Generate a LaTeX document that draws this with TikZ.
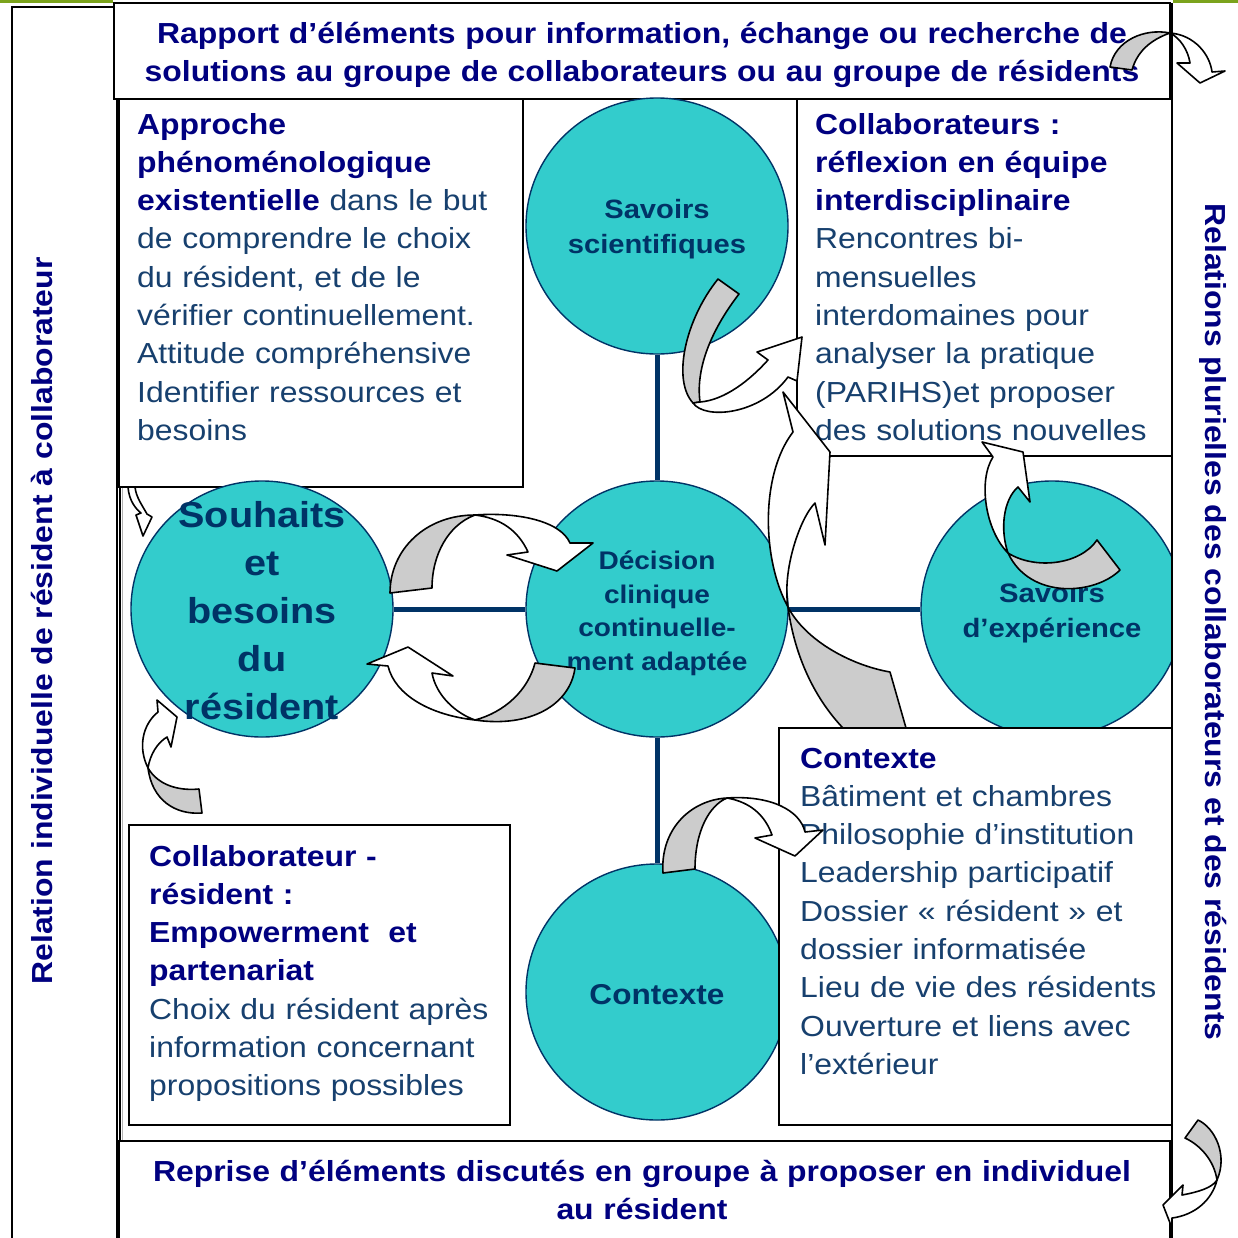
\documentclass[tikz,border=0pt]{standalone}
\usepackage{fontspec}
\setmainfont{Liberation Sans}[FakeStretch=1.1]
\usetikzlibrary{shapes.geometric}
\definecolor{tealc}{HTML}{33CCCC}
\definecolor{navyc}{HTML}{003366}
\definecolor{hdc}{HTML}{000080}
\definecolor{bdc}{HTML}{17406E}
\definecolor{grnc}{HTML}{7BA31C}
\definecolor{shdc}{HTML}{CCCCCC}
\newcommand\hdg[1]{\textcolor{hdc}{\bfseries #1}}
\begin{document}
\begin{tikzpicture}[x=1pt,y=-1pt,
  frame/.style={draw=black,line width=2pt},
  box/.style={draw=black,line width=1.6pt,fill=white},
  circ/.style={ellipse,draw=navyc,line width=1.4pt,fill=tealc,minimum width=262pt,minimum height=256pt,inner sep=0pt},
  conn/.style={draw=navyc,line width=5pt},
  ctext/.style={align=center,text=navyc,inner sep=0pt},
  btext/.style={anchor=base west,align=left,text width=380pt,inner sep=0pt,text=bdc,font=\fontsize{29}{38.3}\selectfont},
  htext/.style={anchor=base,align=center,text width=1100pt,inner sep=0pt,text=hdc,font=\bfseries\fontsize{29}{38}\selectfont},
  arrw/.style={draw=black,line width=1.6pt,fill=white,line join=round},
  shade/.style={draw=black,line width=1.6pt,fill=shdc,line join=round}]
\useasboundingbox (0,0) rectangle (1238,1237);
\fill[white] (0,0) rectangle (1238,1237);
% green top lines
\draw[grnc,line width=2.5pt] (0,1.5) -- (113,1.5);
\draw[grnc,line width=2.5pt] (1173,1.5) -- (1238,1.5);
% side panels and frame
\draw[frame] (12,7) rectangle (117,1240);
\draw[black,line width=1.5pt] (120,3) -- (120,1240);
\draw[gray!60,line width=1pt] (122.5,14) -- (122.5,1240);
\draw[frame,fill=white] (114,3) rectangle (1170,99);
\draw[frame,fill=white] (119,1141) rectangle (1170,1240);
% header / footer texts
\node[htext] (toptxt) at (642,43) {Rapport d’éléments pour information, échange ou recherche de\\ solutions au groupe de collaborateurs ou au groupe de résidents};
\node[htext] (bottxt) at (642,1181) {Reprise d’éléments discutés en groupe à proposer en individuel\\ au résident};
\node[rotate=90,inner sep=0pt,text=hdc,font=\bfseries\fontsize{29}{35}\selectfont] (lefttxt) at (42,621) {Relation individuelle de résident à collaborateur};
\node[rotate=-90,inner sep=0pt,text=hdc,font=\bfseries\fontsize{29}{35}\selectfont] (righttxt) at (1213,622) {Relations plurielles des collaborateurs et des résidents};
% text boxes
\draw[box] (119,99) rectangle (523,487);
\node[btext] (tltxt) at (137,134) {\hdg{Approche}\\ \hdg{phénoménologique}\\ \hdg{existentielle} dans le but\\ de comprendre le choix\\ du résident, et de le\\ vérifier continuellement.\\ Attitude compréhensive\\ Identifier ressources et\\ besoins};
\draw[box] (797,99) rectangle (1172,456);
\node[btext] (trtxt) at (815,134) {\hdg{Collaborateurs :}\\ \hdg{réflexion en équipe}\\ \hdg{interdisciplinaire}\\ Rencontres bi-\\ mensuelles\\ interdomaines pour\\ analyser la pratique\\ (PARIHS)et proposer\\ des solutions nouvelles};
\draw[box] (129,825) rectangle (510,1125);
\node[btext] (bltxt) at (149,866) {\hdg{Collaborateur -}\\ \hdg{résident :}\\ \hdg{Empowerment\ \ et}\\ \hdg{partenariat}\\ Choix du résident après\\ information concernant\\ propositions possibles};
% circles
\node[circ] (sci) at (657,226) {};
\node[circ] (dec) at (657,609) {};
\node[circ] (sou) at (262,609) {};
\begin{scope}
\clip (0,0) rectangle (1172,1237);
\node[circ] (exp) at (1052,609) {};
\end{scope}
\draw[frame] (1172,3) -- (1172,1240);
\node[circ] (ctx) at (657,992) {};
\draw[conn] (sci) -- (dec);
\draw[conn] (sou) -- (dec);
\draw[conn] (dec) -- (exp);
\draw[conn] (dec) -- (ctx);
\node[ctext,yshift=-3pt,font=\bfseries\fontsize{26.5}{35}\selectfont] (scit) at (sci) {Savoirs\\ scientifiques};
\node[ctext,yshift=-4.5pt,font=\bfseries\fontsize{25.5}{33.5}\selectfont] (dect) at (dec) {Décision\\ clinique\\ continuelle-\\ ment adaptée};
\node[ctext,yshift=-2pt,font=\bfseries\fontsize{36}{48}\selectfont] (sout) at (sou) {Souhaits\\ et\\ besoins\\ du\\ résident};
\node[ctext,yshift=-4pt,font=\bfseries\fontsize{26.6}{35}\selectfont] (expt) at (exp) {Savoirs\\ d’expérience};
\node[ctext,yshift=-3pt,font=\bfseries\fontsize{28.7}{35}\selectfont] (ctxt) at (ctx) {Contexte};
% big arrow from context box upwards (under the box)
\path[shade] (788,607) .. controls (795,660) and (818,705) .. (850,735) -- (908,735) -- (890,672) .. controls (850,665) and (805,640) .. (788,607) -- cycle;
\path[arrw] (788,607) .. controls (762,560) and (760,475) .. (793,432) -- (783,392) -- (830,452) -- (825,545) -- (815,503) .. controls (800,518) and (782,570) .. (788,607) -- cycle;
% bottom right box
\draw[box] (779,728) rectangle (1172,1125);
\node[btext] (brtxt) at (800,768) {\hdg{Contexte}\\ Bâtiment et chambres\\ Philosophie d’institution\\ Leadership participatif\\ Dossier «~résident~» et\\ dossier informatisée\\ Lieu de vie des résidents\\ Ouverture et liens avec\\ l’extérieur};
% arrow top right corner
\path[shade] (1110,67) .. controls (1115,40) and (1145,28) .. (1170,33) .. controls (1150,40) and (1137,52) .. (1132,70) -- cycle;
\path[arrw] (1170,33) .. controls (1195,35) and (1210,55) .. (1212,72) -- (1225,71) -- (1200,83) -- (1177,63) -- (1190,63) .. controls (1188,50) and (1180,38) .. (1170,33) -- cycle;
% arrow bottom right corner
\path[shade] (1198,1120) .. controls (1215,1128) and (1228,1155) .. (1217,1180) .. controls (1214,1160) and (1200,1145) .. (1185,1138) -- cycle;
\path[arrw] (1217,1180) .. controls (1212,1200) and (1195,1215) .. (1172,1218) -- (1172,1228) -- (1163,1205) -- (1183,1185) -- (1182,1195) .. controls (1198,1192) and (1212,1188) .. (1217,1180) -- cycle;
% small arrow left
\path[arrw] (128,487) .. controls (129,501) and (136,509) .. (141,513) -- (136,515) -- (143,536) -- (152,517) -- (147,514) .. controls (142,505) and (136,497) .. (135,487) -- cycle;
% arrow left bottom
\path[shade] (202,813) .. controls (175,815) and (152,800) .. (148,768) .. controls (158,785) and (178,791) .. (199,789) -- cycle;
\path[arrw] (148,768) .. controls (138,748) and (142,725) .. (158,712) -- (157,700) -- (177,717) -- (171,747) -- (167,737) .. controls (157,743) and (150,755) .. (148,768) -- cycle;
% arrows between Souhaits and Décision
\path[shade] (390,593) .. controls (390,550) and (425,515) .. (475,515) .. controls (448,525) and (432,555) .. (432,588) -- cycle;
\path[arrw] (475,515) .. controls (515,512) and (560,520) .. (570,543) -- (593,543) -- (557,571) -- (507,555) -- (528,552) .. controls (518,530) and (500,518) .. (475,515) -- cycle;
\path[shade] (575,668) .. controls (570,705) and (530,728) .. (475,720) .. controls (505,712) and (528,690) .. (535,663) -- cycle;
\path[arrw] (475,720) .. controls (430,715) and (395,695) .. (388,666) -- (367,664) -- (408,647) -- (453,676) -- (432,673) .. controls (436,695) and (455,713) .. (475,720) -- cycle;
% arrow from Savoirs scientifiques to team box
\path[shade] (718,279) -- (739,294) .. controls (715,325) and (695,365) .. (700,402) -- (693,403) .. controls (672,380) and (685,320) .. (718,279) -- cycle;
\path[arrw] (693,403) .. controls (705,420) and (760,415) .. (788,377) -- (797,381) -- (802,337) -- (757,352) -- (768,360) .. controls (750,380) and (725,400) .. (700,402) -- cycle;
% arrow at Savoirs d'expérience
\path[shade] (1120,570) .. controls (1095,595) and (1030,600) .. (1008,553) .. controls (1035,570) and (1080,565) .. (1097,540) -- cycle;
\path[arrw] (1008,553) .. controls (985,530) and (978,480) .. (993,457) -- (982,442) -- (1023,452) -- (1030,502) -- (1018,487) .. controls (1003,500) and (1000,530) .. (1008,553) -- cycle;
% arrow from Contexte circle to context box
\path[shade] (663,873) .. controls (660,830) and (690,800) .. (727,798) .. controls (710,805) and (695,830) .. (695,869) -- cycle;
\path[arrw] (727,798) .. controls (770,795) and (800,810) .. (805,832) -- (823,830) -- (795,856) -- (755,838) -- (772,835) .. controls (765,815) and (750,802) .. (727,798) -- cycle;
\end{tikzpicture}
\end{document}
